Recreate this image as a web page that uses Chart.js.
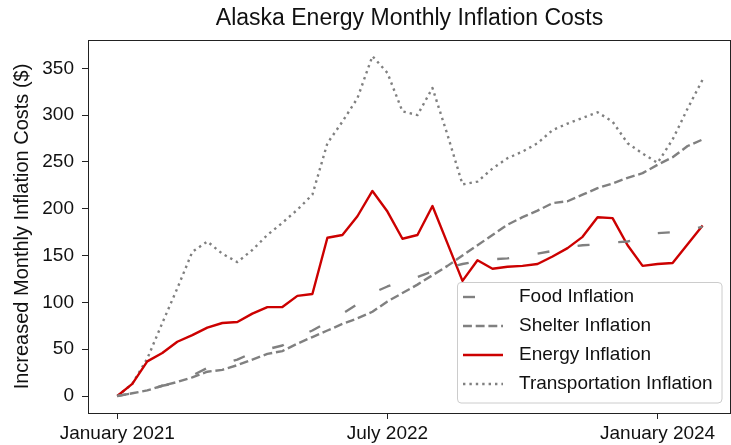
<!DOCTYPE html>
<html>
<head>
<meta charset="utf-8">
<script src="https://cdn.jsdelivr.net/npm/chart.js@4.4.1/dist/chart.umd.min.js"></script>
<style>
  html, body { margin: 0; padding: 0; background: #fff; overflow: hidden; }
  #wrap { width: 731px; height: 445px; }
</style>
</head>
<body>
<div id="wrap"><canvas id="c" width="731" height="445"></canvas></div>
<script>
// ---- data ----
const months = [
  '2021-01','2021-02','2021-03','2021-04','2021-05','2021-06','2021-07','2021-08','2021-09','2021-10','2021-11','2021-12',
  '2022-01','2022-02','2022-03','2022-04','2022-05','2022-06','2022-07','2022-08','2022-09','2022-10','2022-11','2022-12',
  '2023-01','2023-02','2023-03','2023-04','2023-05','2023-06','2023-07','2023-08','2023-09','2023-10','2023-11','2023-12',
  '2024-01','2024-02','2024-03','2024-04'
];
const foodInflation = [0, 3, 6, 11, 14, 22, 30, 34, 39, 46, 50, 54, 63, 70, 79, 88, 98, 110, 117, 123,
  127, 133, 137, 141, 144, 146, 147, 150, 152, 155, 159, 161, 162, 164, 165, 169, 174, 175, 176, 181];
const shelterInflation = [0, 3, 6, 11, 15, 20, 26, 28, 33, 39, 45, 48, 56, 63, 70, 77, 83, 90, 101, 110,
  119, 129, 139, 150, 161, 172, 183, 191, 198, 206, 208, 215, 222, 227, 233, 238, 247, 255, 267, 274];
const energyInflation = [0, 13, 37, 46, 58, 65, 73, 78, 79, 88, 95, 95, 107, 109, 169, 172, 192, 219, 197, 168,
  172, 203, 163, 123, 145, 136, 138, 139, 141, 149, 158, 170, 191, 190, 161, 139, 141, 142, 162, 182];
const transportationInflation = [0, 13, 40, 78, 115, 154, 165, 152, 143, 156, 172, 185, 199, 215, 270, 293, 318, 363, 345, 304,
  300, 329, 279, 226, 229, 243, 254, 261, 270, 284, 291, 297, 303, 293, 270, 259, 249, 274, 307, 338];
const xTickMonths = ['2021-01', '2022-07', '2024-01'];
const xTickLabels = ['January 2021', 'July 2022', 'January 2024'];
const yTicks = [0, 50, 100, 150, 200, 250, 300, 350];

// ---- chart ----
const FONT = "'Liberation Sans', Arial, Helvetica, sans-serif";
const toPts = arr => arr.map((v, i) => ({ x: i, y: v }));
const xTickPos = xTickMonths.map(m => months.indexOf(m));

const datasets = [
  { label: 'Food Inflation', data: toPts(foodInflation), borderColor: '#808080', borderWidth: 2.4, borderDash: [12, 28.8] },
  { label: 'Shelter Inflation', data: toPts(shelterInflation), borderColor: '#808080', borderWidth: 2.4, borderDash: [8.9, 3.8] },
  { label: 'Energy Inflation', data: toPts(energyInflation), borderColor: '#cc0000', borderWidth: 2.4, borderDash: [] },
  { label: 'Transportation Inflation', data: toPts(transportationInflation), borderColor: '#808080', borderWidth: 2.4, borderDash: [2.4, 4] }
].map(d => Object.assign(d, { pointRadius: 0, fill: false, tension: 0, borderCapStyle: 'butt', borderJoinStyle: 'round' }));

const framePlugin = {
  id: 'frame',
  afterDraw(chart) {
    const { ctx, chartArea: a } = chart;
    ctx.save();
    ctx.strokeStyle = '#222';
    ctx.lineWidth = 1;
    ctx.strokeRect(Math.round(a.left) + 0.5, Math.round(a.top) + 0.5, Math.round(a.right - a.left) - 1, Math.round(a.bottom - a.top));
    ctx.restore();
  }
};

const legendPlugin = {
  id: 'boxLegend',
  afterDraw(chart) {
    const { ctx, chartArea: a } = chart;
    const w = 265, h = 121;
    const x = a.right - 9 - w, y = a.bottom - 10 - h;
    ctx.save();
    ctx.fillStyle = 'rgba(255,255,255,0.8)';
    ctx.strokeStyle = '#cccccc';
    ctx.lineWidth = 1;
    const r = 4;
    ctx.beginPath();
    ctx.moveTo(x + r, y + 0.5);
    ctx.lineTo(x + w - r, y + 0.5);
    ctx.quadraticCurveTo(x + w, y + 0.5, x + w, y + r);
    ctx.lineTo(x + w, y + h - r);
    ctx.quadraticCurveTo(x + w, y + h, x + w - r, y + h);
    ctx.lineTo(x + r, y + h);
    ctx.quadraticCurveTo(x + 0.5, y + h, x + 0.5, y + h - r);
    ctx.lineTo(x + 0.5, y + r);
    ctx.quadraticCurveTo(x + 0.5, y + 0.5, x + r, y + 0.5);
    ctx.closePath();
    ctx.fill();
    ctx.stroke();
    chart.data.datasets.forEach((ds, k) => {
      const cy = y + 15 + k * 29;
      ctx.beginPath();
      ctx.strokeStyle = ds.borderColor;
      ctx.lineWidth = ds.borderWidth;
      ctx.setLineDash(ds.borderDash || []);
      ctx.lineCap = 'butt';
      ctx.moveTo(x + 6, cy);
      ctx.lineTo(x + 46, cy);
      ctx.stroke();
      ctx.setLineDash([]);
      ctx.fillStyle = '#111';
      ctx.font = '19px ' + FONT;
      ctx.textBaseline = 'middle';
      ctx.textAlign = 'left';
      ctx.fillText(ds.label, x + 62, cy);
    });
    ctx.restore();
  }
};

new Chart(document.getElementById('c'), {
  type: 'line',
  data: { datasets },
  options: {
    responsive: false,
    animation: false,
    devicePixelRatio: 1,
    layout: { padding: { left: 0, right: 0, top: 0, bottom: 0 } },
    plugins: {
      legend: { display: false },
      tooltip: { enabled: false },
      title: { display: false }
    },
    scales: {
      x: {
        type: 'linear',
        min: -1.95,
        max: 40.89,
        afterBuildTicks: s => { s.ticks = xTickPos.map(v => ({ value: v })); },
        afterFit: s => { s.height = 32; },
        ticks: {
          autoSkip: false, maxRotation: 0, minRotation: 0,
          color: '#111', padding: 3,
          font: { family: FONT, size: 19 },
          callback: v => xTickLabels[xTickPos.indexOf(v)]
        },
        grid: { display: true, drawOnChartArea: false, drawTicks: true, tickLength: 6, color: '#222', tickWidth: 1 },
        border: { display: false }
      },
      top: {
        type: 'linear',
        position: 'top',
        min: -1.95,
        max: 40.89,
        afterFit: s => { s.height = 40; },
        ticks: { display: false },
        grid: { display: false, drawTicks: false },
        border: { display: false },
        title: {
          display: true,
          text: 'Alaska Energy Monthly Inflation Costs',
          color: '#111',
          font: { family: FONT, size: 23, weight: 'normal', lineHeight: 1.2 },
          padding: { top: 5, bottom: 0 }
        }
      },
      y: {
        type: 'linear',
        min: -18.1,
        max: 380.2,
        afterBuildTicks: s => { s.ticks = yTicks.map(v => ({ value: v })); },
        afterFit: s => { s.width = 88; },
        ticks: {
          color: '#111', padding: 8,
          font: { family: FONT, size: 19 },
          callback: v => String(v)
        },
        grid: { display: true, drawOnChartArea: false, drawTicks: true, tickLength: 6, color: '#222', tickWidth: 1 },
        border: { display: false },
        title: {
          display: true,
          text: 'Increased Monthly Inflation Costs ($)',
          color: '#111',
          font: { family: FONT, size: 20, lineHeight: 1.2 },
          padding: { top: 10, bottom: 0 }
        }
      }
    }
  },
  plugins: [framePlugin, legendPlugin]
});
</script>
</body>
</html>
